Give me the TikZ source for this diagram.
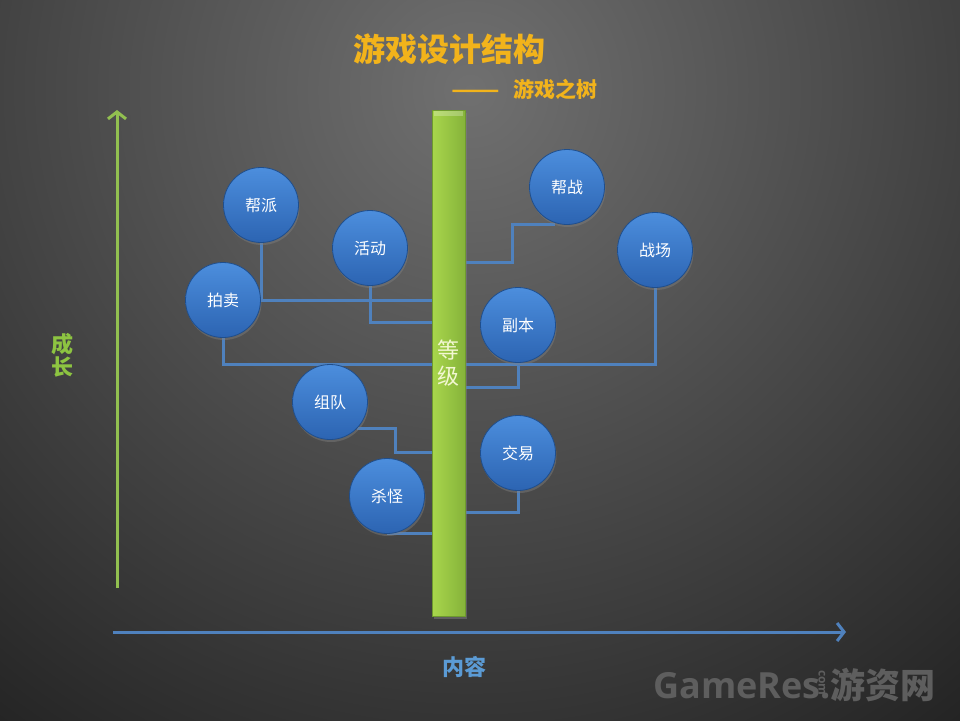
\documentclass[tikz,border=0pt]{standalone}
\usepackage{fontspec}
\setmainfont{Noto Sans CJK SC}
\newfontfamily\wmfont{Open Sans}
\usetikzlibrary{arrows.meta,shadows,calc}
\definecolor{bgin}{HTML}{707070}
\definecolor{bgout}{HTML}{1E1E1E}
\definecolor{titlec}{HTML}{F2B31B}
\definecolor{growgreen}{HTML}{8DC441}
\definecolor{axisgreen}{HTML}{92C050}
\definecolor{lineblue}{HTML}{4F81BD}
\definecolor{textblue}{HTML}{5B9BD5}
\definecolor{balltop}{HTML}{4C8EDD}
\definecolor{ballbot}{HTML}{2C64B2}
\definecolor{ballrim}{HTML}{1F4E8C}
\definecolor{barleft}{HTML}{A8D64C}
\definecolor{barright}{HTML}{86B33A}
\definecolor{barrim}{HTML}{6E9A2E}
\definecolor{bartext}{HTML}{F2F7D2}
\definecolor{wmgray}{HTML}{5E5E5E}
\pgfdeclarelayer{bg}
\pgfdeclarelayer{conn}
\pgfsetlayers{bg,conn,main}
\tikzset{
  ball/.style={circle, minimum size=75pt, inner sep=0pt, draw=ballrim, line width=0.8pt,
    top color=balltop, bottom color=ballbot, text=white,
    font=\fontsize{16}{18}\selectfont,
    drop shadow={shadow xshift=1pt, shadow yshift=-2.5pt, opacity=0.45}},
  conn/.style={draw=lineblue, line width=3pt},
  axis/.style={line width=3pt, -{Straight Barb[length=7pt,width=18pt]}},
}
\begin{document}
\begin{tikzpicture}[x=1pt,y=-1pt]
\useasboundingbox (0,0) rectangle (960,720);
\begin{pgfonlayer}{bg}
  \clip (0,0) rectangle (960,720);
  \shade[inner color=bgin, outer color=bgout] (470,90) circle (860pt);
\end{pgfonlayer}

% title
\node[text=titlec, font=\fontsize{32}{34}\bfseries\selectfont] (title) at (449,49) {游戏设计结构};
\node[text=titlec, font=\fontsize{21}{23}\bfseries\selectfont, anchor=west, inner sep=0pt] (subtitle) at (451,89) {\scalebox{1.35}[1]{——}\hspace{14pt}游戏之树};

% axes
\coordinate (gbot) at (117,588);
\coordinate (gtop) at (117,110);
\draw[axis, axisgreen] (gbot) -- (gtop);
\coordinate (bleft) at (113,632);
\coordinate (bright) at (846,632);
\draw[axis, lineblue] (bleft) -- (bright);
\node[text=growgreen, font=\fontsize{22}{23}\bfseries\selectfont, align=center] (grow) at (62,355) {成\\长};
\node[text=textblue, font=\fontsize{22}{24}\bfseries\selectfont] (content) at (464,667) {内容};

% trunk
\node[rectangle, minimum width=33pt, minimum height=506pt, inner sep=0pt,
  left color=barleft, right color=barright, draw=barrim, line width=0.6pt,
  text=bartext, align=center, font=\fontsize{22}{26}\selectfont,
  drop shadow={shadow xshift=1.5pt, shadow yshift=-2.5pt, opacity=0.5}] (bar) at (448.5,363) {等\\级};
\fill[white, opacity=0.25] ($(bar.north west)+(2,1)$) rectangle ($(bar.north east)+(-2,6)$);

% balls
\node[ball] (bangpai) at (261,205) {帮派};
\node[ball] (huodong) at (370,248) {活动};
\node[ball] (paimai) at (223,300) {拍卖};
\node[ball] (zudui) at (330,402) {组队};
\node[ball] (shaguai) at (387,496) {杀怪};
\node[ball] (bangzhan) at (567,187) {帮战};
\node[ball] (zhanchang) at (655,250) {战场};
\node[ball] (fuben) at (518,325) {副本};
\node[ball] (jiaoyi) at (518,453) {交易};

% connectors
\begin{pgfonlayer}{conn}
  \draw[conn] (bangpai.south) |- (bar.west |- 0,300);
  \draw[conn] (huodong.south) |- (bar.west |- 0,322);
  \draw[conn] (paimai.south) -- (paimai.south |- 0,364) -| (zhanchang.south);
  \draw[conn] (zudui.-45) -| (395,452) -- (bar.west |- 0,452);
  \draw[conn] (shaguai.south) -- (bar.west |- shaguai.south);
  \draw[conn] ([xshift=-12pt]bangzhan.south) -| (512,262) -- (bar.east |- 0,262);
  \draw[conn] (fuben.south) |- (bar.east |- 0,387);
  \draw[conn] (jiaoyi.south) |- (bar.east |- 0,512);
\end{pgfonlayer}

% watermark
\node[text=wmgray, font=\wmfont\bfseries\fontsize{36}{36}\selectfont, anchor=west, inner sep=0pt] (wm1) at (653,686) {GameRes.};
\node[text=wmgray, font=\wmfont\bfseries\fontsize{12}{12}\selectfont, rotate=-90, inner sep=0pt] (wm2) at (822,683) {com};
\node[text=wmgray, font=\fontsize{35}{35}\bfseries\selectfont, anchor=west, inner sep=0pt] (wm3) at (830,685) {游资网};
\end{tikzpicture}
\end{document}
